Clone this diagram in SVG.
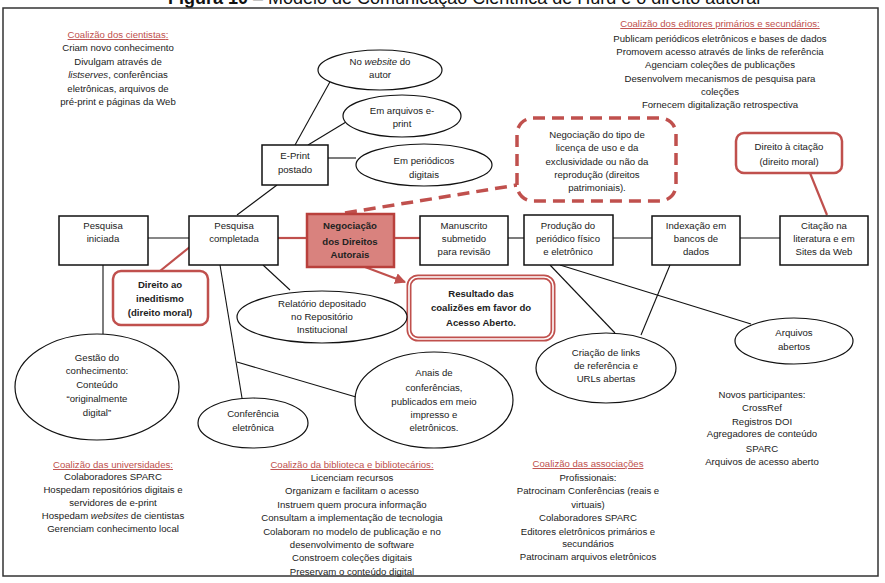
<svg xmlns="http://www.w3.org/2000/svg" width="885" height="583" viewBox="0 0 885 583">
<defs>
<marker id="arr" viewBox="0 0 10 10" refX="9" refY="5" markerWidth="5" markerHeight="5" orient="auto"><path d="M0,0 L10,5 L0,10 z" fill="#c0504d"/></marker>
</defs>
<style>
text{font-family:"Liberation Sans",Arial,sans-serif;font-size:9.6px;fill:#222;text-anchor:middle}
.b{font-weight:bold}
.t{fill:#c0504d;text-decoration:underline}
.box{fill:#fff;stroke:#111;stroke-width:1.5}
.ell{fill:#fff;stroke:#111;stroke-width:1.2}
.ln{stroke:#111;stroke-width:1.1;fill:none}
.rl{stroke:#c0504d;stroke-width:2.2;fill:none}
.rbox{fill:#fff;stroke:#c0504d;stroke-width:2.5}
</style>
<rect width="885" height="583" fill="#fff"/>
<text x="168" y="4" style="font-size:18px;text-anchor:start;fill:#111"><tspan font-weight="bold">Figura 10</tspan> – Modelo de Comunicação Científica de Hurd e o direito autoral</text>
<rect x="3" y="8" width="875" height="568" fill="none" stroke="#333" stroke-width="1.5"/>

<g id="connectors">
<line class="ln" x1="148" y1="238" x2="189" y2="238"/>
<line class="rl" x1="278" y1="238" x2="307" y2="238"/>
<line class="rl" x1="394" y1="238" x2="420" y2="238"/>
<line class="ln" x1="508" y1="238" x2="524" y2="238"/>
<line class="ln" x1="613" y1="238" x2="652" y2="238"/>
<line class="ln" x1="740" y1="238" x2="780" y2="238"/>
<line class="ln" x1="277" y1="185" x2="237" y2="215"/>
<line class="ln" x1="295" y1="145" x2="331" y2="80"/>
<line class="ln" x1="308" y1="145" x2="346" y2="122"/>
<line class="ln" x1="328" y1="158" x2="356" y2="158"/>
<line class="ln" x1="103" y1="265" x2="103" y2="334"/>
<line class="ln" x1="263" y1="265" x2="290" y2="290"/>
<line class="ln" x1="220" y1="265" x2="242" y2="398"/>
<line class="ln" x1="237" y1="362" x2="356" y2="397"/>
<line class="ln" x1="550" y1="265" x2="615" y2="333"/>
<line class="ln" x1="670" y1="265" x2="641" y2="335"/>
<line class="ln" x1="560" y1="265" x2="751" y2="324"/>
<line class="rl" x1="160" y1="271" x2="191" y2="246"/>
<line class="rl" x1="810" y1="173" x2="827" y2="215"/>
<line class="rl" x1="365" y1="267" x2="405" y2="282" marker-end="url(#arr)"/>
<path d="M345,213 L517,185" stroke="#c0504d" stroke-width="3.5" stroke-dasharray="12,7" fill="none"/>
</g>

<g id="coal-cientistas">
<text x="118" y="38" class="t">Coalizão dos cientistas<tspan style="text-decoration:none">:</tspan></text>
<text x="118" y="51">Criam novo conhecimento</text>
<text x="118" y="65">Divulgam através de</text>
<text x="118" y="78"><tspan font-style="italic">listserves</tspan>, conferências</text>
<text x="118" y="92">eletrônicas, arquivos de</text>
<text x="118" y="105">pré-print e páginas da Web</text>
</g>

<g id="coal-editores">
<text x="720" y="27" class="t">Coalizão dos editores primários e secundários<tspan style="text-decoration:none">:</tspan></text>
<text x="720" y="42">Publicam periódicos eletrônicos e bases de dados</text>
<text x="720" y="55">Promovem acesso através de links de referência</text>
<text x="720" y="68">Agenciam coleções de publicações</text>
<text x="720" y="82">Desenvolvem mecanismos de pesquisa para</text>
<text x="720" y="95">coleções</text>
<text x="720" y="108">Fornecem digitalização retrospectiva</text>
</g>

<g id="n-website"><ellipse class="ell" cx="380" cy="70" rx="62" ry="20"/>
<text x="380" y="65">No <tspan font-style="italic">website</tspan> do</text><text x="380" y="78">autor</text></g>
<g id="n-arquivos"><ellipse class="ell" cx="402" cy="116" rx="59" ry="21"/>
<text x="402" y="114">Em arquivos e-</text><text x="402" y="127">print</text></g>
<g id="n-periodicos"><ellipse class="ell" cx="424" cy="165" rx="68" ry="21"/>
<text x="424" y="164">Em periódicos</text><text x="424" y="178">digitais</text></g>
<g id="n-eprint"><rect class="box" x="262" y="145" width="66" height="40"/>
<text x="295" y="159">E-Print</text><text x="295" y="173">postado</text></g>

<g id="n-licenca"><rect x="517" y="118" width="159" height="83" rx="16" fill="#fff" stroke="#c0504d" stroke-width="3.5" stroke-dasharray="12,7"/>
<text x="597" y="138">Negociação do tipo de</text>
<text x="597" y="151">licença de uso e da</text>
<text x="597" y="165">exclusividade ou não da</text>
<text x="597" y="178">reprodução (direitos</text>
<text x="597" y="191">patrimoniais).</text></g>

<g id="n-citacao-callout"><rect class="rbox" x="736" y="133" width="106" height="40" rx="8"/>
<text x="789" y="150">Direito à citação</text><text x="789" y="165">(direito moral)</text></g>

<g id="n-pi"><rect class="box" x="59" y="216" width="89" height="49"/>
<text x="103" y="229">Pesquisa</text><text x="103" y="242">iniciada</text></g>
<g id="n-pc"><rect class="box" x="189" y="216" width="89" height="49"/>
<text x="234" y="229">Pesquisa</text><text x="234" y="242">completada</text></g>
<g id="n-neg"><rect x="307" y="214" width="87" height="53" fill="#d9827e" stroke="#b9403c" stroke-width="2.5"/>
<text x="350" y="229" class="b">Negociação</text><text x="350" y="245" class="b">dos Direitos</text><text x="350" y="258" class="b">Autorais</text></g>
<g id="n-man"><rect class="box" x="420" y="216" width="88" height="49"/>
<text x="464" y="229">Manuscrito</text><text x="464" y="242">submetido</text><text x="464" y="255">para revisão</text></g>
<g id="n-prod"><rect class="box" x="524" y="215" width="89" height="50"/>
<text x="568" y="229">Produção do</text><text x="568" y="242">periódico físico</text><text x="568" y="255">e eletrônico</text></g>
<g id="n-idx"><rect class="box" x="652" y="216" width="88" height="49"/>
<text x="696" y="229">Indexação em</text><text x="696" y="242">bancos de</text><text x="696" y="255">dados</text></g>
<g id="n-cit"><rect class="box" x="780" y="216" width="88" height="49"/>
<text x="824" y="229">Citação na</text><text x="824" y="242">literatura e em</text><text x="824" y="255">Sites da Web</text></g>

<g id="n-inedit"><rect class="rbox" x="113" y="271" width="95" height="54" rx="8"/>
<text x="160" y="288" class="b">Direito ao</text><text x="160" y="302" class="b">ineditismo</text><text x="160" y="316" class="b">(direito moral)</text></g>

<g id="n-resultado"><rect x="409" y="277" width="144" height="62" rx="9" fill="#fff" stroke="#c0504d" stroke-width="5"/>
<rect x="409" y="277" width="144" height="62" rx="9" fill="none" stroke="#fff" stroke-width="1.6"/>
<text x="481" y="297" class="b">Resultado das</text><text x="481" y="311" class="b">coalizões em favor do</text><text x="481" y="326" class="b">Acesso Aberto.</text></g>

<g id="n-relatorio"><ellipse class="ell" cx="322" cy="317" rx="85" ry="26"/>
<text x="322" y="307">Relatório depositado</text><text x="322" y="320">no Repositório</text><text x="322" y="333">Institucional</text></g>

<g id="n-gestao"><ellipse class="ell" cx="97" cy="387" rx="82" ry="53"/>
<text x="97" y="361">Gestão do</text><text x="97" y="374">conhecimento:</text><text x="97" y="388">Conteúdo</text><text x="97" y="402">“originalmente</text><text x="97" y="416">digital”</text></g>

<g id="n-confel"><ellipse class="ell" cx="253" cy="423" rx="55" ry="25"/>
<text x="253" y="417">Conferência</text><text x="253" y="431">eletrônica</text></g>

<g id="n-anais"><ellipse class="ell" cx="434" cy="400" rx="79" ry="48"/>
<text x="434" y="376">Anais de</text><text x="434" y="391">conferências,</text><text x="434" y="405">publicados em meio</text><text x="434" y="418">impresso e</text><text x="434" y="431">eletrônicos.</text></g>

<g id="n-links"><ellipse class="ell" cx="606" cy="368" rx="70" ry="35"/>
<text x="606" y="356">Criação de links</text><text x="606" y="369">de referência e</text><text x="606" y="382">URLs abertas</text></g>

<g id="n-abertos"><ellipse class="ell" cx="794" cy="341" rx="59" ry="23"/>
<text x="794" y="336">Arquivos</text><text x="794" y="350">abertos</text></g>

<g id="novos">
<text x="762" y="398">Novos participantes:</text>
<text x="762" y="411">CrossRef</text>
<text x="762" y="425">Registros DOI</text>
<text x="762" y="437">Agregadores de conteúdo</text>
<text x="762" y="452">SPARC</text>
<text x="762" y="465">Arquivos de acesso aberto</text>
</g>

<g id="coal-univ">
<text x="113" y="468" class="t">Coalizão das universidades:</text>
<text x="113" y="480">Colaboradores SPARC</text>
<text x="113" y="493">Hospedam repositórios digitais e</text>
<text x="113" y="506">servidores de e-print</text>
<text x="113" y="519">Hospedam <tspan font-style="italic">websites</tspan> de cientistas</text>
<text x="113" y="532">Gerenciam conhecimento local</text>
</g>

<g id="coal-bib">
<text x="352" y="468" class="t">Coalizão da biblioteca e bibliotecários:</text>
<text x="352" y="481">Licenciam recursos</text>
<text x="352" y="494">Organizam e facilitam o acesso</text>
<text x="352" y="508">Instruem quem procura informação</text>
<text x="352" y="521">Consultam a implementação de tecnologia</text>
<text x="352" y="535">Colaboram no modelo de publicação e no</text>
<text x="352" y="548">desenvolvimento de software</text>
<text x="352" y="561">Constroem coleções digitais</text>
<text x="352" y="575">Preservam o conteúdo digital</text>
</g>

<g id="coal-assoc">
<text x="588" y="467" class="t">Coalizão das associações</text>
<text x="588" y="481">Profissionais:</text>
<text x="588" y="494">Patrocinam Conferências (reais e</text>
<text x="588" y="508">virtuais)</text>
<text x="588" y="521">Colaboradores SPARC</text>
<text x="588" y="535">Editores eletrônicos primários e</text>
<text x="588" y="547">secundários</text>
<text x="588" y="560">Patrocinam arquivos eletrônicos</text>
</g>
</svg>
